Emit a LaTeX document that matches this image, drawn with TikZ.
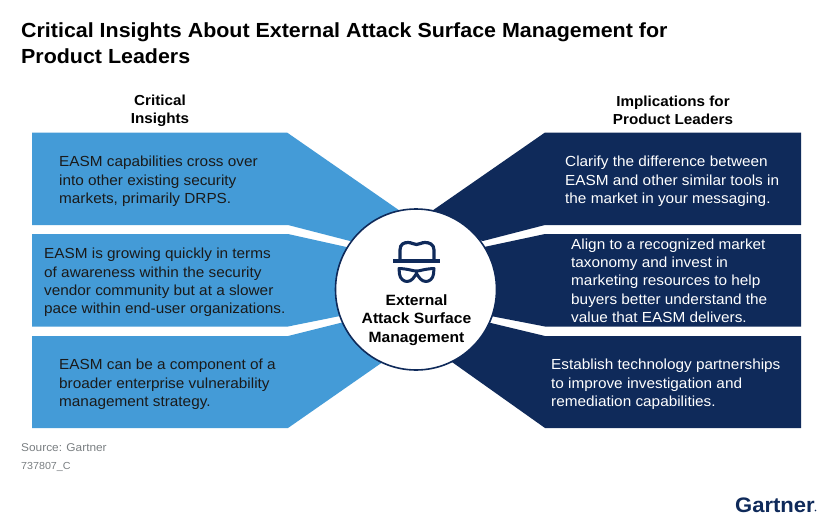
\documentclass[tikz,border=0pt]{standalone}
\usepackage{fontspec}
\setmainfont{Liberation Sans}[FakeStretch=1.05]
\definecolor{lblue}{HTML}{449BD7}
\definecolor{navy}{HTML}{0F2A5A}
\definecolor{ink}{HTML}{1A1A1A}
\definecolor{grey}{HTML}{7A7F82}
\tikzset{
 lpanel/.style={fill=lblue,draw=none},
 rpanel/.style={fill=navy,draw=none},
 ltext/.style={font=\fontsize{14.6}{18.3}\selectfont,text=ink,align=left,anchor=west,inner sep=0pt},
 rtext/.style={font=\fontsize{14.6}{18.3}\selectfont,text=white,align=left,anchor=west,inner sep=0pt},
 head/.style={font=\bfseries\fontsize{14.5}{18.5}\selectfont,text=black,align=center,inner sep=0pt},
 note/.style={font=\fontsize{11.3}{13}\selectfont,text=grey,anchor=west,inner sep=0pt},
}
\begin{document}
\begin{tikzpicture}[x=1pt,y=-1pt]
\useasboundingbox (0,0) rectangle (832,522);
\fill[white] (0,0) rectangle (832,522);
\node[anchor=north west,align=left,inner sep=0pt,font=\bfseries\fontsize{20.4}{26}\selectfont,text=black] (title) at (21,22.5) {Critical Insights About External Attack Surface Management for\\Product Leaders};
\node[head] (hl) at (160,111) {Critical\\Insights};
\node[head] (hr) at (673,110.5) {Implications for\\Product Leaders};
\fill[lpanel] (32,132.5) -- (287,132.5) -- (416,222) -- (350,241) -- (288,225) -- (32,225) -- cycle;
\fill[lpanel] (32,234) -- (288,234) -- (360,250) -- (360,312) -- (288,326.5) -- (32,326.5) -- cycle;
\fill[lpanel] (32,336) -- (288,336) -- (360,318) -- (400,350) -- (288,428) -- (32,428) -- cycle;
\fill[rpanel] (801,132.5) -- (545,132.5) -- (416,222) -- (483,241) -- (545,225) -- (801,225) -- cycle;
\fill[rpanel] (801,234) -- (545,234) -- (470,250) -- (470,312) -- (545,326.5) -- (801,326.5) -- cycle;
\fill[rpanel] (801,336) -- (545,336) -- (470,318) -- (435,350) -- (545,428) -- (801,428) -- cycle;
\node[ltext] (l1) at (59,181.5) {EASM capabilities cross over\\into other existing security\\markets, primarily DRPS.};
\node[ltext] (l2) at (44,282.5) {EASM is growing quickly in terms\\of awareness within the security\\vendor community but at a slower\\pace within end-user organizations.};
\node[ltext] (l3) at (59,384.5) {EASM can be a component of a\\broader enterprise vulnerability\\management strategy.};
\node[rtext] (r1) at (565,181.5) {Clarify the difference between\\EASM and other similar tools in\\the market in your messaging.};
\node[rtext] (r2) at (571,280.5) {Align to a recognized market\\taxonomy and invest in\\marketing resources to help\\buyers better understand the\\value that EASM delivers.};
\node[rtext] (r3) at (551,384.5) {Establish technology partnerships\\to improve investigation and\\remediation capabilities.};
\node[circle,draw=navy,fill=white,line width=1.6pt,minimum size=161pt,inner sep=0pt] (hub) at (416,289.5) {};
\node[align=center,inner sep=0pt,font=\bfseries\fontsize{14.9}{18.5}\selectfont,text=black] (hubt) at (416.5,320) {External\\Attack Surface\\Management};
\begin{scope}[navy,line width=3.2pt,line join=round,line cap=round]
 \draw (400,260) -- (400,250) .. controls (400,244) and (404,242.5) .. (408,242.5) .. controls (412,242.5) and (413,244.5) .. (416.5,244.5) .. controls (420,244.5) and (421,242.5) .. (425,242.5) .. controls (429,242.5) and (434,244) .. (434,250) -- (434,260);
 \draw[line width=4pt,line cap=butt] (393,261) -- (440,261);
 \draw[line width=3pt] (399,268.5) .. controls (410,269) and (412,271) .. (416.5,271) .. controls (421,271) and (423,269) .. (434,268.5) -- (433.5,274) .. controls (433,279) and (429,281.5) .. (426,281.5) .. controls (421,281.5) and (419,277) .. (416.5,273.5) .. controls (414,277) and (412,281.5) .. (407,281.5) .. controls (404,281.5) and (400,279) .. (399.5,274) -- cycle;
\end{scope}
\node[note] (src) at (21,447.5) {Source: Gartner};
\node[note,font=\fontsize{10.2}{13}\selectfont] (code) at (21,467) {737807\_C};
\node[anchor=east,inner sep=0pt,font=\bfseries\fontsize{21}{24}\selectfont,text=navy] (logo) at (815,505) {Gartner};
\fill[navy] (815.5,510.5) circle (0.9pt);
\end{tikzpicture}
\end{document}
